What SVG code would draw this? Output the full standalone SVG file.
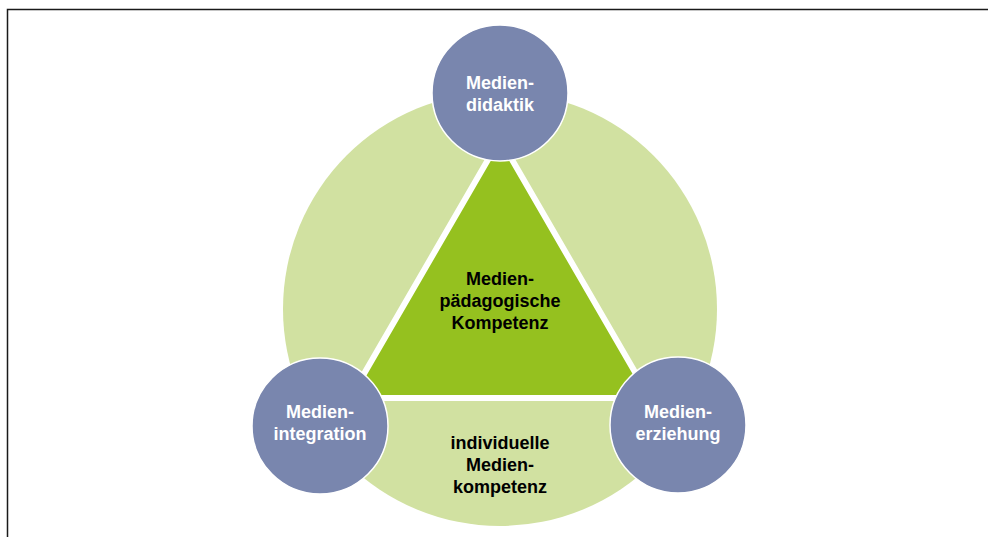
<svg xmlns="http://www.w3.org/2000/svg" width="988" height="537" viewBox="0 0 988 537">
<style>
  .lbl { font-family: "Liberation Sans", Arial, sans-serif; font-size: 18px; font-weight: bold; text-anchor: middle; }
  .wt { fill: #ffffff; }
  .bk { fill: #000000; }
  .node { fill: #7986ae; stroke: #ffffff; stroke-width: 1.5; }
</style>
<rect x="0" y="0" width="988" height="537" fill="#ffffff"/>
<path d="M7.5,537 V9.5 H988" fill="none" stroke="#1a1a1a" stroke-width="1.5"/>
<g id="ring">
  <circle cx="500" cy="309" r="217" fill="#d1e1a1"/>
</g>
<g id="center">
  <polygon points="500,139 350,398 650,398" fill="#95c11f" stroke="#ffffff" stroke-width="6" stroke-linejoin="miter"/>
  <text class="lbl bk" x="500" y="285">Medien-</text>
  <text class="lbl bk" x="500" y="307">pädagogische</text>
  <text class="lbl bk" x="500" y="329">Kompetenz</text>
</g>
<g id="bottom-segment">
  <text class="lbl bk" x="500" y="449">individuelle</text>
  <text class="lbl bk" x="500" y="471">Medien-</text>
  <text class="lbl bk" x="500" y="493">kompetenz</text>
</g>
<g id="connectors"></g>
<g id="node-didaktik">
  <circle class="node" cx="500" cy="93" r="68"/>
  <text class="lbl wt" x="500" y="89">Medien-</text>
  <text class="lbl wt" x="500" y="111">didaktik</text>
</g>
<g id="node-integration">
  <circle class="node" cx="320" cy="426" r="68"/>
  <text class="lbl wt" x="320" y="418">Medien-</text>
  <text class="lbl wt" x="320" y="440">integration</text>
</g>
<g id="node-erziehung">
  <circle class="node" cx="678" cy="425" r="68"/>
  <text class="lbl wt" x="678" y="418">Medien-</text>
  <text class="lbl wt" x="678" y="440">erziehung</text>
</g>
</svg>
